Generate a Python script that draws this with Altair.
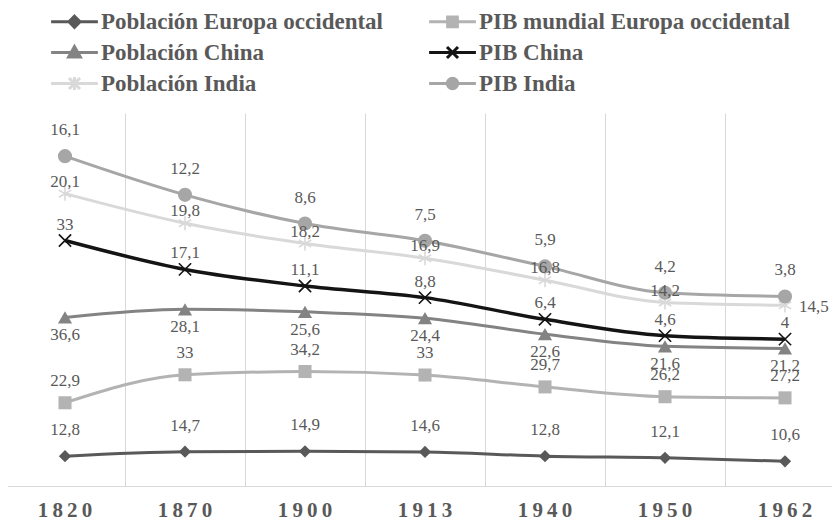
import altair as alt
import pandas as pd

years = ["1820", "1870", "1900", "1913", "1940", "1950", "1962"]
series = [
    "Población Europa occidental",
    "PIB mundial Europa occidental",
    "Población China",
    "PIB China",
    "Población India",
    "PIB India",
]
pop_europa = [12.8, 14.7, 14.9, 14.6, 12.8, 12.1, 10.6]
pib_europa = [22.9, 33, 34.2, 33, 29.7, 26.2, 27.2]
pop_china = [36.6, 28.1, 25.6, 24.4, 22.6, 21.6, 21.2]
pib_china = [33, 17.1, 11.1, 8.8, 6.4, 4.6, 4]
pop_india = [20.1, 19.8, 18.2, 16.9, 16.8, 14.2, 14.5]
pib_india = [16.1, 12.2, 8.6, 7.5, 5.9, 4.2, 3.8]
values = [pop_europa, pib_europa, pop_china, pib_china, pop_india, pib_india]

rows = []
for i, (s, vals) in enumerate(zip(series, values)):
    for y, v in zip(years, vals):
        rows.append({"year": y, "series": s, "value": v, "order": i})
df = pd.DataFrame(rows)

colors = ["#595959", "#b3b3b3", "#838383", "#141414", "#d9d9d9", "#a6a6a6"]

FONT = "Liberation Serif"

marker = [
    dict(shape="diamond", size=150, strokeWidth=0),
    dict(shape="square", size=170, strokeWidth=0),
    dict(shape="triangle-up", size=200, strokeWidth=0),
    dict(shape="M-1,-1L1,1M1,-1L-1,1", size=150, strokeWidth=1.6),
    dict(shape="M0,-1L0,1M-0.87,-0.5L0.87,0.5M-0.87,0.5L0.87,-0.5", size=200, strokeWidth=1.6),
    dict(shape="circle", size=200, strokeWidth=0),
]
line_w = [3, 3, 3, 3.5, 3, 3]
label_dy = [-26, -22, 18, -16, -12, -26]

L = "M-3.6,0L3.6,0"
legend_paths = [
    L + "M0,-0.85L0.85,0L0,0.85L-0.85,0Z",
    L + "M-0.75,-0.75L0.75,-0.75L0.75,0.75L-0.75,0.75Z",
    L + "M0,-0.9L0.9,0.7L-0.9,0.7Z",
    L + "M-0.85,-0.85L0.85,0.85M0.85,-0.85L-0.85,0.85",
    L + "M0,-1L0,1M-0.85,-0.85L0.85,0.85M-0.85,0.85L0.85,-0.85",
    L + "M-0.8,0A0.8,0.8,0,1,0,0.8,0A0.8,0.8,0,1,0,-0.8,0Z",
]
# legend fills column by column: order entries so rows read like the reference
leg_idx = [0, 2, 4, 1, 3, 5]
leg_domain = [series[i] for i in leg_idx]
leg_colors = [colors[i] for i in leg_idx]
leg_paths = [legend_paths[i] for i in leg_idx]

x_enc = alt.X(
    "year:N",
    sort=years,
    scale=alt.Scale(type="band", domain=years, range=[-3, 837], paddingInner=0, paddingOuter=0),
    axis=alt.Axis(
        title=None, grid=True, bandPosition=0, labelOffset=0, ticks=False,
        domainColor="#d9d9d9", gridColor="#d9d9d9", labelAngle=0,
        labelFont=FONT, labelFontSize=21, labelFontWeight="bold", labelColor="#595959",
        labelPadding=13, labelExpr="join(split(datum.label, ''), '\u2009')",
    ),
)
y_enc = alt.Y("y1:Q", scale=alt.Scale(domain=[0, 160], nice=False, zero=True), axis=None)

base = alt.Chart(df).transform_stack(
    stack="value", groupby=["year"], as_=["y0", "y1"], sort=[alt.SortField("order", order="ascending")]
).transform_calculate(lab="replace(toString(datum.value), '.', ',')")

layers = []
for i, s in enumerate(series):
    b = base.transform_filter(alt.datum.series == s)
    layers.append(
        b.mark_line(interpolate="monotone", color=colors[i], strokeWidth=line_w[i]).encode(x=x_enc, y=y_enc)
    )
for i, s in enumerate(series):
    b = base.transform_filter(alt.datum.series == s)
    m = marker[i]
    layers.append(
        b.mark_point(
            shape=m["shape"], size=m["size"], filled=True, fill=colors[i], stroke=colors[i],
            strokeWidth=m["strokeWidth"], opacity=1,
        ).encode(x=x_enc, y=y_enc)
    )
for i, s in enumerate(series):
    b = base.transform_filter(alt.datum.series == s)
    if i == 4:
        b1 = b.transform_filter(alt.datum.year != years[-1])
        b2 = b.transform_filter(alt.datum.year == years[-1])
        layers.append(
            b2.mark_text(font=FONT, fontSize=17, color="#595959", align="left", baseline="middle", dx=14, dy=2)
            .encode(x=x_enc, y=y_enc, text="lab:N")
        )
        b = b1
    layers.append(
        b.mark_text(font=FONT, fontSize=17, color="#595959", align="center", baseline="middle", dy=label_dy[i])
        .encode(x=x_enc, y=y_enc, text="lab:N")
    )

leg = alt.Legend(
    title=None, orient="none", legendX=55, legendY=-103, columns=2, columnPadding=40, rowPadding=6,
    labelFont=FONT, labelFontSize=23, labelFontWeight="bold", labelColor="#595959", labelLimit=0,
    symbolSize=169, symbolStrokeWidth=3, labelOffset=15, padding=0, symbolOpacity=1,
)
legend_layer = base.mark_point(filled=True, opacity=0).encode(
    x=x_enc, y=y_enc,
    fill=alt.Fill("series:N", sort=leg_domain, scale=alt.Scale(domain=leg_domain, range=leg_colors), legend=leg),
    stroke=alt.Stroke("series:N", sort=leg_domain, scale=alt.Scale(domain=leg_domain, range=leg_colors), legend=leg),
    shape=alt.Shape("series:N", sort=leg_domain, scale=alt.Scale(domain=leg_domain, range=leg_paths), legend=leg),
)
layers.append(legend_layer)

chart = alt.layer(*layers).properties(
    width=824, height=373,
    padding={"left": 0, "top": 105, "right": 0, "bottom": 34},
    autosize=alt.AutoSizeParams(type="none"),
    background="white",
).configure_view(stroke=None)

chart.save("out.html", embed_options={"renderer": "svg", "actions": False})
